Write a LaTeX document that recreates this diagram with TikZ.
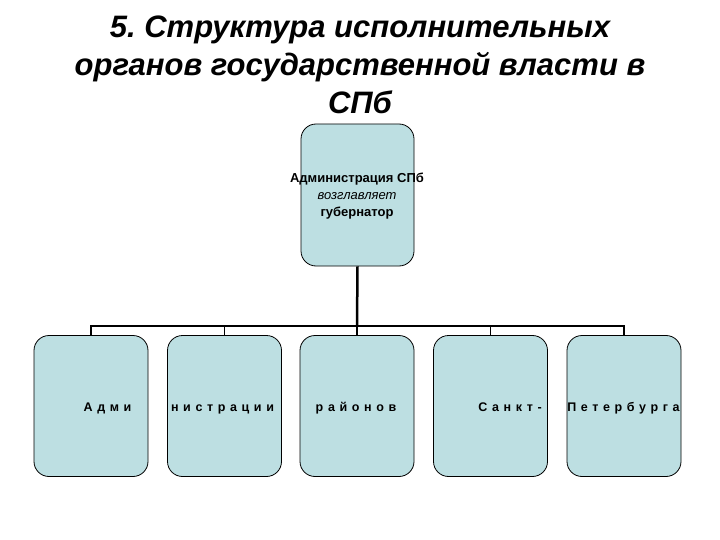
\documentclass[tikz,border=0pt]{standalone}
\usepackage{fontspec}
\setmainfont{Liberation Sans}
\definecolor{boxblue}{HTML}{BDDFE2}
\tikzset{
  unitbox/.style={draw=black, line width=0.8pt, fill=boxblue, rounded corners=15pt,
    minimum width=114pt, minimum height=141pt, inner sep=0pt},
  spaced/.style={font=\fontsize{12.5}{14}\selectfont\bfseries\addfontfeature{LetterSpace=37},
    inner sep=0pt, anchor=base}
}
\begin{document}
\begin{tikzpicture}[x=1pt, y=-1pt]
    \useasboundingbox (0,0) rectangle (720,540);

    \node[align=center, font=\fontsize{31}{38}\selectfont\bfseries\itshape] (title) at (360,65)
        {5.\ Структура исполнительных\\органов государственной власти в\\СПб};

    \node[unitbox, minimum width=113pt, minimum height=142pt] (head) at (357.5,195) {};
    \node[align=center, font=\fontsize{13}{17}\selectfont] (headtext) at (357,196)
        {\textbf{Администрация СПб}\\\textit{возглавляет}\\\textbf{губернатор}};

    \foreach \i/\x in {1/91, 2/224.5, 3/357, 4/490.5, 5/624}
        \node[unitbox] (unit\i) at (\x,406) {};

    % text runs across all five boxes
    \node[spaced] (word1) at (107.5,411.5) {Адми};
    \node[spaced] (word2) at (222.5,411.5) {нистрации};
    \node[spaced] (word3) at (356,411.5) {районов};
    \node[spaced] (word4) at (510,411.5) {Санкт-};
    \node[spaced] (word5) at (623.5,411.5) {Петербурга};

    \coordinate (hub) at (357,326);
    \draw [line width=2.5pt] (head.south) -- (hub);
    \foreach \i in {1,...,5}
        \draw [line width=1.8pt] (hub) -| (unit\i.north);
\end{tikzpicture}
\end{document}
